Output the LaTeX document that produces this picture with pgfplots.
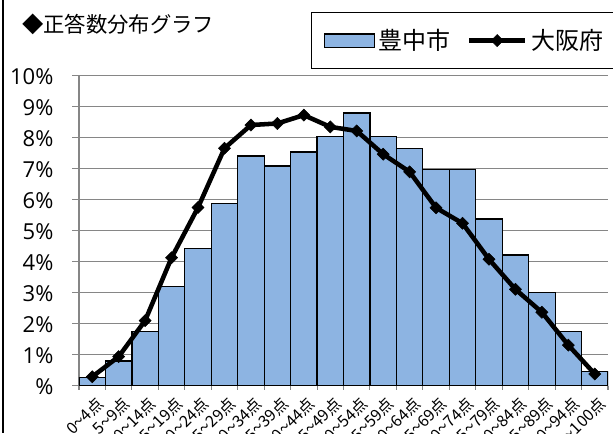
\documentclass[border=0pt]{standalone}
\usepackage{fontspec}
\setmainfont{Open Sans}
\newfontfamily\cjk{Noto Sans CJK JP}
\usepackage{graphicx}
\usepackage{pgfplots}
\usepackage{pgfplotstable}
\pgfplotsset{compat=1.18}

\definecolor{barblue}{RGB}{141,180,226}
\definecolor{gridgray}{RGB}{134,134,134}

% narrow wave dash, as in the score bands
\newcommand\td{\scalebox{0.62}[1]{～}}

\pgfplotsset{
    barlegend/.style={legend image code/.code={%
        \draw[##1] (0pt,-4.9pt) rectangle (37.5pt,4.9pt);}},
    linelegend/.style={legend image code/.code={%
        \draw[mark repeat=2, mark phase=2, ##1]
            plot coordinates {(0pt,0pt) (21pt,0pt) (42pt,0pt)};}},
}

% share of pupils per score band, in percent
\pgfplotstableread{
bin share
1  0.26
2  0.80
3  1.74
4  3.19
5  4.43
6  5.87
7  7.41
8  7.09
9  7.54
10 8.05
11 8.80
12 8.05
13 7.65
14 6.97
15 6.97
16 5.38
17 4.22
18 3.00
19 1.74
20 0.45
}\toyonaka

\pgfplotstableread{
bin share
1  0.29
2  0.94
3  2.10
4  4.13
5  5.75
6  7.66
7  8.41
8  8.46
9  8.73
10 8.35
11 8.22
12 7.47
13 6.90
14 5.74
15 5.24
16 4.08
17 3.11
18 2.37
19 1.31
20 0.38
}\osaka

\begin{document}
\begin{tikzpicture}
\useasboundingbox (0,0) rectangle (459.75pt,-324.75pt);
\clip (0,0) rectangle (459.75pt,-324.75pt);
\draw[line width=0.9pt] (2.25pt,0) -- (2.25pt,-324.75pt);
\node[anchor=west, inner sep=0pt, font=\cjk\fontsize{16}{18}\selectfont] at (16.3pt,-18pt) {◆正答数分布グラフ};

\begin{axis}[
    at={(59.25pt,-289.3pt)}, anchor=south west,
    width=396.75pt, height=232.5pt, scale only axis,
    xmin=0.5, xmax=20.5, ymin=0, ymax=10,
    axis x line*=bottom, axis y line*=left, tick pos=left,
    axis line style={-, gridgray, line width=0.8pt},
    tick align=outside,
    tick style={gridgray, line width=0.8pt},
    major tick length=5pt, minor tick length=3pt,
    ymajorgrids, grid style={gridgray, line width=0.8pt},
    ytick={0,1,...,10},
    yticklabels={\%,1\%,2\%,3\%,4\%,5\%,6\%,7\%,8\%,9\%,10\%},
    yticklabel style={anchor=east, inner sep=0pt, xshift=-14pt, yshift=-0.8pt,
        font=\fontsize{16.5}{18}\selectfont},
    xtick={1,...,20},
    major x tick style={draw=none},
    minor xtick={0.5,1.5,...,20.5},
    xticklabels={0\td4点,5\td9点,10\td14点,15\td19点,20\td24点,25\td29点,30\td34点,35\td39点,40\td44点,45\td49点,50\td54点,55\td59点,60\td64点,65\td69点,70\td74点,75\td79点,80\td84点,85\td89点,90\td94点,95\td100点},
    xticklabel style={rotate=45, anchor=east, inner sep=0pt, yshift=-8.5pt,
        font=\cjk\fontsize{12}{13}\selectfont},
    legend columns=2,
    legend style={at={(0.4386,1.2055)}, anchor=north west, draw=black,
        line width=1.1pt, inner xsep=9pt, inner ysep=9.5pt,
        font=\cjk\fontsize{18}{20}\selectfont,
        nodes={inner sep=3pt},
        /tikz/every even column/.append style={column sep=9pt}},
]
\addplot[ybar, bar width=1, fill=barblue, draw=black, line width=0.9pt, barlegend]
    table[x=bin, y=share] {\toyonaka};
\addlegendentry{豊中市}
\addplot[black, line width=3.4pt, mark=square*, mark size=3.2pt,
    mark options={rotate=45, solid, fill=black, line width=0.4pt}, linelegend]
    table[x=bin, y=share] {\osaka};
\addlegendentry{大阪府}
\end{axis}
\end{tikzpicture}
\end{document}
